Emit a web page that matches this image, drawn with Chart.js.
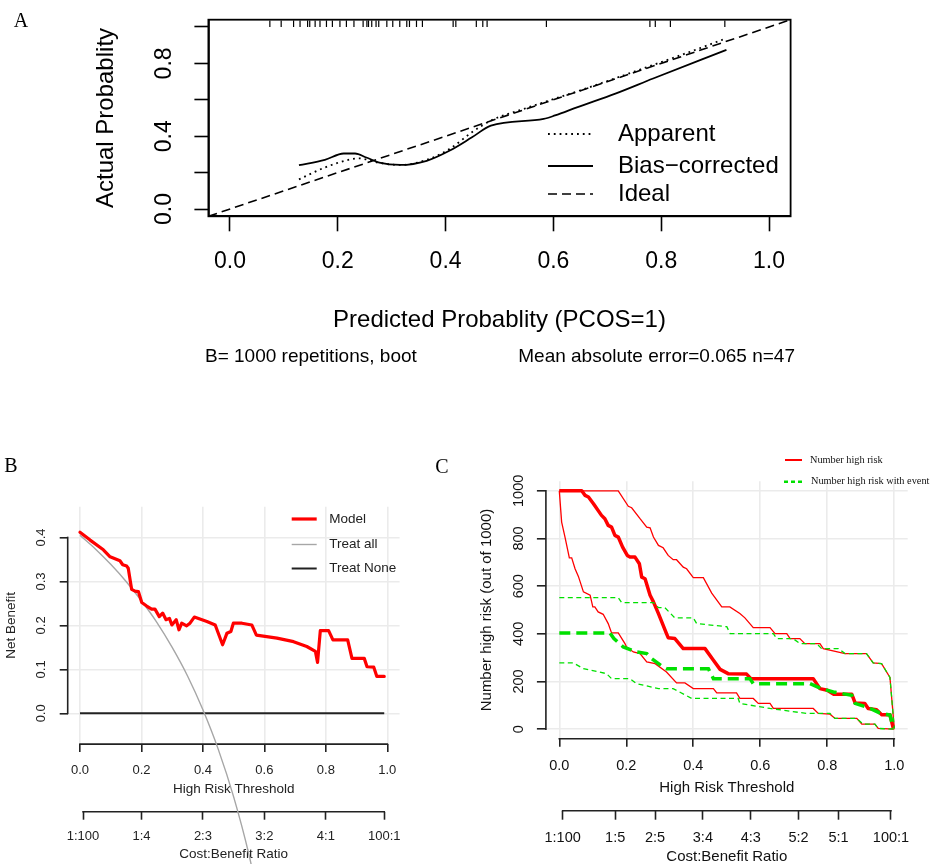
<!DOCTYPE html>
<html><head><meta charset="utf-8">
<script src="https://cdn.jsdelivr.net/npm/chart.js@4.4.1/dist/chart.umd.min.js"></script>
<style>
html,body{margin:0;padding:0;background:#fff;}
#wrap{position:relative;width:930px;height:864px;overflow:hidden;background:#fff;}
canvas{position:absolute;}
.lbl{position:absolute;line-height:1;white-space:nowrap;color:#000;}
</style></head><body>
<div id="wrap">
<canvas id="cA" width="930" height="380" style="left:0;top:0;width:930px;height:380px"></canvas>
<canvas id="cB" width="425" height="424" style="left:0;top:440px;width:425px;height:424px"></canvas>
<canvas id="cC" width="500" height="424" style="left:430px;top:440px;width:500px;height:424px"></canvas>
<div class="lbl" style="font-family:'Liberation Serif';font-size:20px;left:21px;top:20px;transform:translate(-50%,-50%)">A</div>
<div class="lbl" style="font-family:'Liberation Serif';font-size:20px;left:11px;top:465px;transform:translate(-50%,-50%)">B</div>
<div class="lbl" style="font-family:'Liberation Serif';font-size:20px;left:442px;top:466px;transform:translate(-50%,-50%)">C</div>
<div class="lbl" style="font-family:'Liberation Sans';font-size:19px;left:205px;top:345.5px">B= 1000 repetitions, boot</div>
<div class="lbl" style="font-family:'Liberation Sans';font-size:19px;right:135px;top:345.5px">Mean absolute error=0.065 n=47</div>
</div>
<script>
// ---------------- Panel A data ----------------
const aXTicks = [0, 0.2, 0.4, 0.6, 0.8, 1.0];
const aXLabels = ['0.0','0.2','0.4','0.6','0.8','1.0'];
const aYTicks = [0, 0.2, 0.4, 0.6, 0.8, 1.0];
const aYLabels = ['0.0','','0.4','','0.8',''];
const apparentX = [0.128,0.176,0.225,0.240,0.274,0.316,0.365,0.407,0.449,0.484,0.55,0.65,0.75,0.85,0.921];
const apparentY = [0.163,0.228,0.274,0.278,0.255,0.242,0.270,0.329,0.422,0.486,0.555,0.652,0.755,0.860,0.938];
const biasX = [0.128,0.176,0.211,0.232,0.253,0.277,0.316,0.365,0.407,0.449,0.484,0.582,0.603,0.645,0.715,0.785,0.921];
const biasY = [0.241,0.270,0.305,0.305,0.283,0.255,0.242,0.265,0.320,0.394,0.458,0.495,0.514,0.560,0.634,0.717,0.874];
const idealX = [-0.04, 1.04];
const idealY = [-0.04, 1.04];
const rugX = [0.074,0.095,0.118,0.130,0.144,0.148,0.158,0.167,0.179,0.190,0.204,0.216,0.230,0.247,0.254,0.257,0.263,0.271,0.276,0.291,0.302,0.315,0.328,0.333,0.346,0.357,0.414,0.419,0.457,0.469,0.477,0.587,0.779,0.789,0.817,0.918];

// ---------------- Panel B data ----------------
const bXTicks = [0, 0.2, 0.4, 0.6, 0.8, 1.0];
const bXLabels = ['0.0','0.2','0.4','0.6','0.8','1.0'];
const bYTicks = [0, 0.1, 0.2, 0.3, 0.4];
const bYLabels = ['0.0','0.1','0.2','0.3','0.4'];
const bCBTicks = [0.0099, 0.2, 0.4, 0.6, 0.8, 0.9901];
const bCBLabels = ['1:100','1:4','2:3','3:2','4:1','100:1'];
const modelThr = [0,0.033,0.076,0.098,0.130,0.139,0.152,0.157,0.168,0.179,0.190,0.201,0.217,0.233,0.244,0.258,0.269,0.280,0.291,0.299,0.313,0.322,0.331,0.347,0.358,0.372,0.413,0.440,0.464,0.478,0.491,0.499,0.527,0.559,0.574,0.641,0.695,0.738,0.766,0.773,0.782,0.809,0.823,0.871,0.885,0.925,0.934,0.956,0.966,0.990];
const modelNB  = [0.412,0.394,0.372,0.356,0.347,0.338,0.335,0.330,0.282,0.278,0.277,0.252,0.244,0.237,0.237,0.220,0.228,0.213,0.216,0.201,0.213,0.190,0.205,0.199,0.205,0.219,0.209,0.201,0.156,0.182,0.186,0.205,0.205,0.201,0.178,0.171,0.163,0.152,0.141,0.116,0.188,0.188,0.167,0.167,0.125,0.125,0.106,0.105,0.084,0.084];
const allThr = [0,0.05,0.1,0.15,0.2,0.25,0.3,0.35,0.4,0.45,0.5,0.55,0.6];
const allNB  = [0.405,0.374,0.339,0.300,0.256,0.207,0.150,0.085,0.008,-0.082,-0.190,-0.322,-0.488];
const noneThr = [0, 0.99];
const noneNB  = [0, 0];

// ---------------- Panel C data ----------------
const cXTicks = [0, 0.2, 0.4, 0.6, 0.8, 1.0];
const cXLabels = ['0.0','0.2','0.4','0.6','0.8','1.0'];
const cYTicks = [0, 200, 400, 600, 800, 1000];
const cYLabels = ['0','200','400','600','800','1000'];
const cCBTicks = [0.0099, 0.1667, 0.2857, 0.4286, 0.5714, 0.7143, 0.8333, 0.9901];
const cCBLabels = ['1:100','1:5','2:5','3:4','4:3','5:2','5:1','100:1'];
const riskX = [0,0.067,0.077,0.087,0.102,0.126,0.136,0.146,0.156,0.166,0.176,0.189,0.203,0.211,0.226,0.239,0.246,0.256,0.271,0.281,0.296,0.308,0.320,0.325,0.345,0.370,0.435,0.460,0.480,0.504,0.559,0.572,0.758,0.778,0.800,0.818,0.873,0.883,0.912,0.922,0.947,0.962,0.987,0.997];
const riskY = [1000,1000,981,974,946,897,883,855,848,813,806,764,729,722,722,694,638,631,562,534,485,443,401,384,380,338,338,289,251,233,231,212,212,170,163,147,147,110,108,87,82,61,61,3];
const riskUpX = [0,0.176,0.206,0.216,0.241,0.261,0.271,0.281,0.296,0.310,0.325,0.340,0.350,0.370,0.380,0.400,0.430,0.455,0.485,0.509,0.539,0.554,0.579,0.629,0.644,0.679,0.689,0.718,0.733,0.778,0.788,0.853,0.917,0.937,0.962,0.987,1.0];
const riskUpY = [1000,1000,935,929,883,848,845,806,771,761,729,711,711,680,673,636,636,571,513,513,485,467,426,426,401,401,380,380,359,359,338,317,317,278,275,217,3];
const riskLoX = [0,0.007,0.017,0.030,0.037,0.047,0.057,0.072,0.092,0.100,0.106,0.116,0.131,0.146,0.156,0.176,0.196,0.201,0.221,0.241,0.261,0.286,0.320,0.350,0.375,0.400,0.460,0.470,0.529,0.539,0.579,0.594,0.629,0.639,0.758,0.773,0.808,0.823,0.888,0.903,0.942,0.952,1.0];
const riskLoY = [1000,869,806,719,719,673,641,576,562,513,513,492,482,443,404,404,359,345,324,317,282,275,240,194,194,170,170,152,152,129,129,108,108,87,87,66,63,45,45,21,21,3,0];
const eventX = [0,0.151,0.163,0.191,0.231,0.261,0.276,0.310,0.320,0.445,0.460,0.569,0.579,0.748,0.783,0.818,0.873,0.883,0.922,0.957,0.987,0.997];
const eventY = [404,404,380,345,324,317,296,261,254,254,212,212,191,191,170,156,142,108,91,68,59,3];
const eventUpX = [0,0.176,0.186,0.281,0.296,0.315,0.345,0.400,0.410,0.500,0.510,0.639,0.649,0.698,0.718,0.768,0.783,0.833,0.853,0.917,0.937,0.962,0.987,1.0];
const eventUpY = [552,552,531,531,510,510,467,467,443,430,401,401,380,380,359,359,338,338,317,317,278,275,217,3];
const eventLoX = [0,0.042,0.072,0.141,0.156,0.211,0.231,0.296,0.340,0.395,0.534,0.539,0.629,0.738,0.808,0.823,0.888,0.907,0.942,0.952,1.0];
const eventLoY = [278,278,254,233,212,212,191,170,170,129,129,108,87,66,66,45,45,21,21,3,0];

// ---------------- helpers ----------------
Chart.defaults.font.family = "'Liberation Sans', Arial, sans-serif";
Chart.defaults.color = '#000';
const pts = (xs, ys) => xs.map((x, i) => ({x: x, y: ys[i]}));

function linAxis(o) {
  return {
    type: 'linear', position: o.pos, min: o.min, max: o.max, weight: o.weight || 0,
    afterBuildTicks: s => { s.ticks = o.ticks.map(v => ({value: v})); },
    afterFit: s => {
      if (o.pos === 'left') s.width = o.size; else s.height = o.size;
      s.paddingLeft = 0; s.paddingRight = 0; s.paddingTop = 0; s.paddingBottom = 0;
    },
    ticks: {autoSkip: false, minRotation: o.rot || 0, maxRotation: o.rot || 0,
      crossAlign: o.pos === 'left' ? 'center' : 'near', padding: o.pad,
      font: {size: o.fs}, color: o.color, callback: (v, i) => o.labels[i]},
    grid: {display: true, drawOnChartArea: !!o.gridColor, color: o.gridColor || 'rgba(0,0,0,0)',
      lineWidth: o.gridWidth || 1, drawTicks: true, tickLength: o.tl,
      tickColor: o.tickColor, tickWidth: o.tickWidth},
    border: {display: !!o.border, color: '#000', width: o.border || 0},
    title: {display: true, text: o.title, color: o.color,
      font: {size: o.tfs, lineHeight: o.tlh || 1.2}, padding: o.tpad}
  };
}

const legendPlugin = {
  id: 'rLegend',
  afterDraw(chart, args, opts) {
    if (!opts || !opts.items) return;
    const ctx = chart.ctx;
    ctx.save();
    for (const it of opts.items) {
      ctx.beginPath();
      ctx.setLineDash(it.dash || []);
      ctx.strokeStyle = it.color; ctx.lineWidth = it.width; ctx.lineCap = 'butt';
      ctx.moveTo(it.x1, it.y); ctx.lineTo(it.x2, it.y); ctx.stroke();
      ctx.setLineDash([]);
      ctx.font = opts.font; ctx.fillStyle = opts.textColor;
      ctx.textBaseline = 'middle'; ctx.textAlign = 'left';
      ctx.fillText(it.text, it.tx != null ? it.tx : opts.textX, it.y);
    }
    ctx.restore();
  }
};

const rAxisPlugin = {
  id: 'rAxis',
  beforeDatasetsDraw(chart, args, opts) {
    if (!opts || !opts.ids) return;
    const ctx = chart.ctx;
    ctx.save();
    ctx.strokeStyle = opts.color; ctx.lineWidth = opts.width; ctx.lineCap = 'square';
    for (const id of opts.ids) {
      const s = chart.scales[id];
      const a = s.getPixelForValue(s.ticks[0].value);
      const b = s.getPixelForValue(s.ticks[s.ticks.length - 1].value);
      ctx.beginPath();
      if (s.isHorizontal()) { ctx.moveTo(a, s.top); ctx.lineTo(b, s.top); }
      else { ctx.moveTo(s.right, a); ctx.lineTo(s.right, b); }
      ctx.stroke();
    }
    ctx.restore();
  }
};

const boxPlugin = {
  id: 'rBox',
  beforeDatasetsDraw(chart) {
    const a = chart.chartArea, ctx = chart.ctx;
    ctx.save(); ctx.strokeStyle = '#000'; ctx.lineWidth = 1.8;
    ctx.strokeRect(a.left, a.top, a.right - a.left, a.bottom - a.top);
    ctx.restore();
  }
};

const baseOpts = {responsive: false, devicePixelRatio: 1, animation: false, events: []};

// ---------------- Panel A ----------------
new Chart(document.getElementById('cA'), {
  type: 'scatter',
  data: {datasets: [
    {data: pts(apparentX, apparentY), showLine: true, borderColor: '#000', borderWidth: 1.8,
     borderDash: [1.8, 4], pointRadius: 0, cubicInterpolationMode: 'monotone'},
    {data: pts(biasX, biasY), showLine: true, borderColor: '#000', borderWidth: 1.8,
     pointRadius: 0, cubicInterpolationMode: 'monotone', borderJoinStyle: 'round'},
    {data: pts(idealX, idealY), showLine: true, borderColor: '#000', borderWidth: 1.6,
     borderDash: [9, 5], pointRadius: 0},
    {data: rugX.map(x => ({x: x, y: 1.018})), showLine: false, pointStyle: 'line', rotation: 90,
     pointRadius: 3.3, pointBorderColor: '#000', pointBorderWidth: 1.2, borderColor: '#000', clip: false}
  ]},
  options: Object.assign({}, baseOpts, {
    layout: {padding: {left: 0, top: 19.7, right: 139.4, bottom: 0}},
    plugins: {legend: {display: false}, tooltip: {enabled: false},
      rLegend: {font: "24px 'Liberation Sans'", textColor: '#000', textX: 618, items: [
        {x1: 548, x2: 593, y: 134, color: '#000', width: 1.8, dash: [1.8, 4], text: 'Apparent'},
        {x1: 548, x2: 593, y: 166, color: '#000', width: 1.8, text: 'Bias\u2212corrected'},
        {x1: 548, x2: 593, y: 194, color: '#000', width: 1.6, dash: [9, 5], text: 'Ideal'}
      ]}},
    scales: {
      x: linAxis({pos: 'bottom', min: -0.04, max: 1.04, ticks: aXTicks, labels: aXLabels, size: 163.7,
        pad: 16.9, fs: 23, color: '#000', tl: 15, tickColor: '#000', tickWidth: 1.6, border: 1.8,
        title: 'Predicted Probablity (PCOS=1)', tfs: 24, tpad: {top: 0, bottom: 44.9}}),
      y: linAxis({pos: 'left', min: -0.04, max: 1.04, ticks: aYTicks, labels: aYLabels, size: 208.4, rot: 90,
        pad: 14.2, fs: 23, color: '#000', tl: 14, tickColor: '#000', tickWidth: 1.6, border: 1.8,
        title: 'Actual Probablity', tfs: 24, tpad: {top: 91.6, bottom: 0}})
    }
  }),
  plugins: [boxPlugin, legendPlugin]
});

// ---------------- Panel B ----------------
const gridCol = '#ebebeb';
new Chart(document.getElementById('cB'), {
  type: 'scatter',
  data: {datasets: [
    {data: pts(modelThr, modelNB), showLine: true, borderColor: '#ff0000', borderWidth: 3.2,
     pointRadius: 0, borderJoinStyle: 'round', borderCapStyle: 'round'},
    {data: pts(allThr, allNB), showLine: true, borderColor: '#a6a6a6', borderWidth: 1.4,
     pointRadius: 0, cubicInterpolationMode: 'monotone', capBezierPoints: false, clip: false},
    {data: pts(noneThr, noneNB), showLine: true, borderColor: '#222', borderWidth: 2, pointRadius: 0}
  ]},
  options: Object.assign({}, baseOpts, {
    layout: {padding: {left: 0, top: 66.7, right: 25.4, bottom: 0}},
    plugins: {legend: {display: false}, tooltip: {enabled: false},
      rAxis: {ids: ['x', 'x2', 'y'], color: '#222', width: 1.6},
      rLegend: {font: "13.5px 'Liberation Sans'", textColor: '#222', textX: 329.3, items: [
        {x1: 291.7, x2: 316.7, y: 79, color: '#ff0000', width: 3.2, text: 'Model'},
        {x1: 291.7, x2: 316.7, y: 104.5, color: '#a6a6a6', width: 1.4, text: 'Treat all'},
        {x1: 291.7, x2: 316.7, y: 128.5, color: '#222', width: 2, text: 'Treat None'}
      ]}},
    scales: {
      x: linAxis({pos: 'bottom', weight: 0, min: -0.04, max: 1.04, ticks: bXTicks, labels: bXLabels, size: 67.6,
        pad: 10.1, fs: 13, color: '#222', tl: 8, tickColor: '#222', tickWidth: 1.6,
        gridColor: gridCol, gridWidth: 1.6,
        title: 'High Risk Threshold', tfs: 13.5, tpad: {top: 0, bottom: 14.3}}),
      x2: linAxis({pos: 'bottom', weight: 1, min: -0.04, max: 1.04, ticks: bCBTicks, labels: bCBLabels, size: 52.3,
        pad: 9.2, fs: 13, color: '#222', tl: 8, tickColor: '#222', tickWidth: 1.6,
        title: 'Cost:Benefit Ratio', tfs: 13.5, tpad: {top: 0, bottom: 1.9}}),
      y: linAxis({pos: 'left', min: -0.07, max: 0.47, ticks: bYTicks, labels: bYLabels, size: 67.7, rot: 90,
        pad: 9.0, fs: 13, color: '#222', tl: 8, tickColor: '#222', tickWidth: 1.6,
        gridColor: gridCol, gridWidth: 1.6,
        title: 'Net Benefit', tfs: 13.5, tpad: {top: 3.6, bottom: 0}})
    }
  }),
  plugins: [rAxisPlugin, legendPlugin]
});

// ---------------- Panel C ----------------
const red = '#ff0000', green = '#00e000';
new Chart(document.getElementById('cC'), {
  type: 'scatter',
  data: {datasets: [
    {data: pts(eventX, eventY), showLine: true, borderColor: green, borderWidth: 3.5, borderDash: [11, 6], pointRadius: 0},
    {data: pts(eventUpX, eventUpY), showLine: true, borderColor: green, borderWidth: 1.3, borderDash: [5, 3.5], pointRadius: 0},
    {data: pts(eventLoX, eventLoY), showLine: true, borderColor: green, borderWidth: 1.3, borderDash: [5, 3.5], pointRadius: 0},
    {data: pts(riskX, riskY), showLine: true, borderColor: red, borderWidth: 3.5, pointRadius: 0, borderJoinStyle: 'round'},
    {data: pts(riskUpX, riskUpY), showLine: true, borderColor: red, borderWidth: 1.3, pointRadius: 0},
    {data: pts(riskLoX, riskLoY), showLine: true, borderColor: red, borderWidth: 1.3, pointRadius: 0}
  ]},
  options: Object.assign({}, baseOpts, {
    layout: {padding: {left: 0, top: 41.3, right: 22.3, bottom: 0}},
    plugins: {legend: {display: false}, tooltip: {enabled: false},
      rAxis: {ids: ['x', 'x2', 'y'], color: '#222', width: 1.6},
      rLegend: {font: "10.3px 'Liberation Serif'", textColor: '#111', textX: 380, items: [
        {x1: 355, x2: 372, y: 20, color: red, width: 2, text: 'Number high risk'},
        {x1: 354, x2: 372, y: 41.7, color: green, width: 2.5, dash: [4, 3], text: 'Number high risk with event', tx: 381}
      ]}},
    scales: {
      x: linAxis({pos: 'bottom', weight: 0, min: -0.04, max: 1.04, ticks: cXTicks, labels: cXLabels, size: 72,
        pad: 10.6, fs: 14.5, color: '#111', tl: 8, tickColor: '#222', tickWidth: 1.6,
        gridColor: gridCol, gridWidth: 1.6,
        title: 'High Risk Threshold', tfs: 15, tpad: {top: 0, bottom: 14}}),
      x2: linAxis({pos: 'bottom', weight: 1, min: -0.04, max: 1.04, ticks: cCBTicks, labels: cCBLabels, size: 53.3,
        pad: 9.9, fs: 14.5, color: '#111', tl: 9, tickColor: '#222', tickWidth: 1.6,
        title: 'Cost:Benefit Ratio', tfs: 15, tlh: 1.0, tpad: {top: 0, bottom: 0}}),
      y: linAxis({pos: 'left', min: -40, max: 1040, ticks: cYTicks, labels: cYLabels, size: 115.9, rot: 90,
        pad: 1.8, fs: 14.5, color: '#111', tl: 9, tickColor: '#222', tickWidth: 1.6,
        gridColor: gridCol, gridWidth: 1.6,
        title: 'Number high risk (out of 1000)', tfs: 15, tpad: {top: 48, bottom: 0}})
    }
  }),
  plugins: [rAxisPlugin, legendPlugin]
});
</script>
</body></html>
